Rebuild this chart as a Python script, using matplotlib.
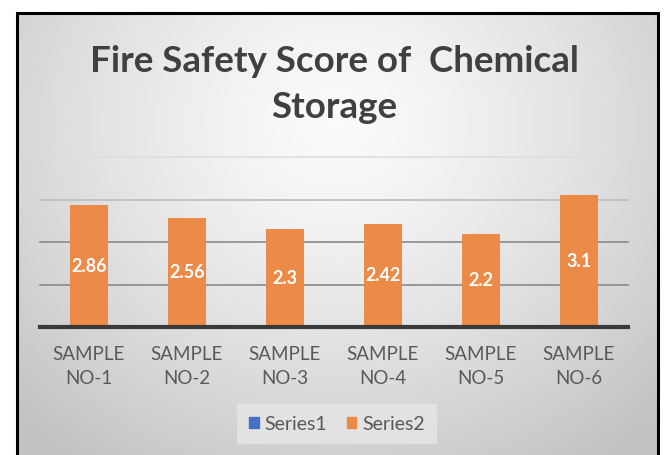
import numpy as np
import matplotlib
matplotlib.use("Agg")
import matplotlib.pyplot as plt
from matplotlib.patches import Rectangle

categories = ["SAMPLE\nNO-1", "SAMPLE\nNO-2", "SAMPLE\nNO-3", "SAMPLE\nNO-4", "SAMPLE\nNO-5", "SAMPLE\nNO-6"]
series1 = [0, 0, 0, 0, 0, 0]
series2 = [2.86, 2.56, 2.3, 2.42, 2.2, 3.1]
labels2 = ["2.86", "2.56", "2.3", "2.42", "2.2", "3.1"]
gridlines = [1, 2, 3, 4]
title_lines = ["Fire Safety Score of  Chemical", "Storage"]

W, H = 664, 455
fig = plt.figure(figsize=(W / 100, H / 100), dpi=100)
fig.patch.set_facecolor("white")

font = "Lato"

# background gradient inside frame
bg = fig.add_axes([16 / W, 0, (659 - 16) / W, (H - 13) / H])
bg.set_axis_off()
yy, xx = np.mgrid[0:442, 0:643]
cx, cy = 320, 110
r = np.sqrt(((xx - cx) / 420.0) ** 2 + ((yy - cy) / 380.0) ** 2)
val = 0.985 - 0.20 * np.clip(r, 0, 1.2) ** 1.3
val = np.clip(val, 0.76, 1.0)
img = np.dstack([val, val, val])
bg.imshow(img, aspect="auto", extent=[0, 1, 0, 1], origin="upper", interpolation="bilinear")
bg.set_xlim(0, 1)
bg.set_ylim(0, 1)

# frame
fig.patches.append(Rectangle((17 / W, -0.01), (658 - 17) / W, (H - 13) / H + 0.01,
                             transform=fig.transFigure, fill=False, edgecolor="black",
                             linewidth=2.2, zorder=10))

ax = fig.add_axes([40 / W, (H - 327) / H, 588 / W, 170 / H])
ax.patch.set_alpha(0)
x = np.arange(len(categories))
ax.set_xlim(-0.5, len(categories) - 0.5)
ax.set_ylim(0, 4)

grid_colors = {1: "#8a8a8a", 2: "#8a8a8a", 3: "#bdbdbd", 4: "#dedede"}
for g in gridlines:
    ax.axhline(g, color=grid_colors[g], linewidth=1.2, zorder=1, clip_on=False)

ax.bar(x, series1, width=0.39, color="#4472C4", zorder=2, label="Series1")
ax.bar(x, series2, width=0.39, color="#EC8A48", zorder=2, label="Series2")
ax.axhline(0, color="#3a3a3a", linewidth=3, zorder=3, clip_on=False)

for xi, v, lab in zip(x, series2, labels2):
    ax.text(xi, v / 2, lab, ha="center", va="center", color="white",
            fontsize=13, fontweight="bold", family=font, zorder=4)

for s in ax.spines.values():
    s.set_visible(False)
ax.set_yticks([])
ax.set_xticks(x)
ax.set_xticklabels(categories, fontsize=13.5, color="#595959", family=font, linespacing=1.45)
ax.tick_params(axis="x", length=0, pad=14)

fig.text(334 / W, 1 - 62 / H, title_lines[0], ha="center", va="center", fontsize=26.5,
         fontweight="bold", color="#404040", family=font)
fig.text(334 / W, 1 - 107 / H, title_lines[1], ha="center", va="center", fontsize=26.5,
         fontweight="bold", color="#404040", family=font)

leg = fig.legend(handles=[plt.Rectangle((0, 0), 1, 1, color="#4472C4"),
                          plt.Rectangle((0, 0), 1, 1, color="#EC8A48")],
                 labels=["Series1", "Series2"], loc="center", bbox_to_anchor=(337 / W, 1 - 424 / H),
                 ncol=2, frameon=True, fancybox=False, handlelength=0.5, handleheight=0.5,
                 handletextpad=0.3, columnspacing=1.0, borderpad=0.6,
                 prop={"family": font, "size": 14})
leg.get_frame().set_facecolor("#e6e6e6")
leg.get_frame().set_edgecolor("none")
for t in leg.get_texts():
    t.set_color("#595959")

fig.savefig("out.png", dpi=100)
